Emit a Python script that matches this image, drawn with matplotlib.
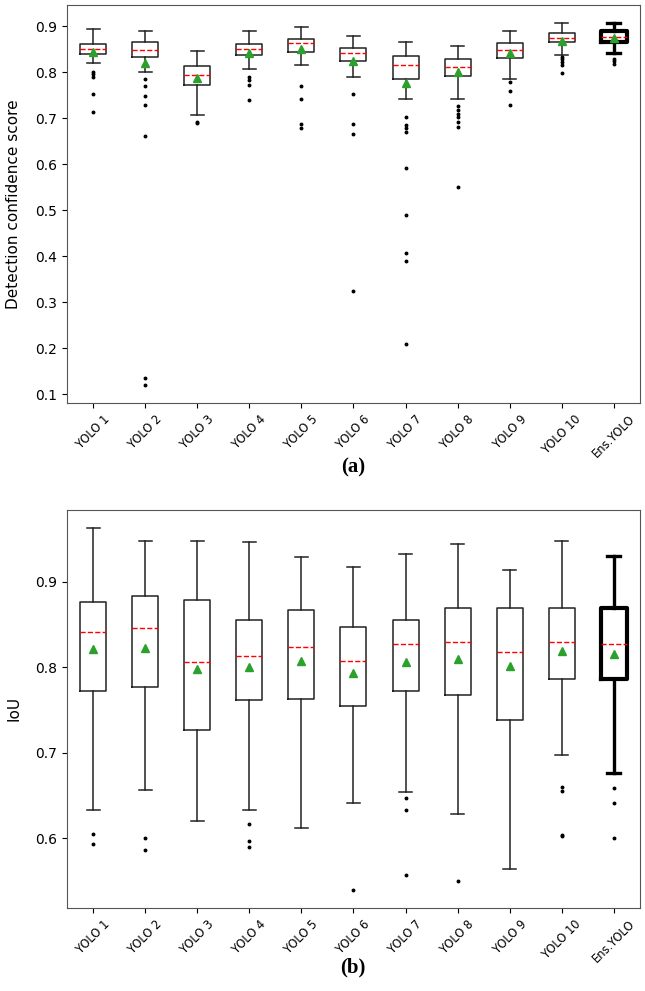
import matplotlib
matplotlib.use("Agg")
import matplotlib.pyplot as plt

labels = ["YOLO 1", "YOLO 2", "YOLO 3", "YOLO 4", "YOLO 5", "YOLO 6",
          "YOLO 7", "YOLO 8", "YOLO 9", "YOLO 10", "Ens.YOLO"]

# (a) detection confidence score
conf_whislo = [0.820, 0.801, 0.707, 0.807, 0.817, 0.789, 0.743, 0.743, 0.785, 0.838, 0.841]
conf_q1 = [0.839, 0.833, 0.772, 0.838, 0.844, 0.825, 0.785, 0.793, 0.831, 0.866, 0.867]
conf_med = [0.851, 0.848, 0.794, 0.851, 0.863, 0.843, 0.817, 0.812, 0.849, 0.875, 0.877]
conf_q3 = [0.862, 0.865, 0.814, 0.861, 0.872, 0.852, 0.835, 0.828, 0.864, 0.886, 0.889]
conf_whishi = [0.894, 0.889, 0.847, 0.889, 0.898, 0.879, 0.865, 0.857, 0.890, 0.907, 0.907]
conf_mean = [0.845, 0.820, 0.787, 0.841, 0.850, 0.825, 0.777, 0.800, 0.843, 0.869, 0.875]
conf_fliers = [
    [0.801, 0.796, 0.789, 0.753, 0.713],
    [0.786, 0.770, 0.748, 0.728, 0.661, 0.136, 0.120],
    [0.693, 0.689],
    [0.789, 0.783, 0.772, 0.740],
    [0.770, 0.743, 0.688, 0.680],
    [0.753, 0.688, 0.666, 0.325],
    [0.703, 0.685, 0.680, 0.670, 0.592, 0.489, 0.406, 0.389, 0.208],
    [0.727, 0.718, 0.710, 0.702, 0.693, 0.682, 0.551],
    [0.780, 0.759, 0.728],
    [0.834, 0.829, 0.823, 0.817, 0.798],
    [0.830, 0.825, 0.818],
]

# (b) IoU
iou_whislo = [0.633, 0.657, 0.620, 0.633, 0.612, 0.641, 0.654, 0.629, 0.564, 0.697, 0.677]
iou_q1 = [0.772, 0.777, 0.727, 0.762, 0.763, 0.755, 0.773, 0.768, 0.738, 0.787, 0.787]
iou_med = [0.841, 0.846, 0.806, 0.813, 0.824, 0.808, 0.827, 0.830, 0.818, 0.830, 0.827]
iou_q3 = [0.877, 0.884, 0.879, 0.856, 0.867, 0.847, 0.855, 0.869, 0.870, 0.869, 0.869]
iou_whishi = [0.963, 0.948, 0.948, 0.947, 0.929, 0.918, 0.933, 0.944, 0.914, 0.948, 0.930]
iou_mean = [0.822, 0.823, 0.798, 0.801, 0.808, 0.794, 0.806, 0.810, 0.802, 0.819, 0.816]
iou_fliers = [
    [0.605, 0.593],
    [0.601, 0.587],
    [],
    [0.617, 0.597, 0.590],
    [],
    [0.540],
    [0.647, 0.633, 0.557],
    [0.550],
    [],
    [0.660, 0.656, 0.604, 0.603],
    [0.659, 0.641, 0.601],
]


def make_stats(lo, q1, med, q3, hi, mean, fliers):
    return [dict(label=labels[i], whislo=lo[i], q1=q1[i], med=med[i], q3=q3[i],
                 whishi=hi[i], mean=mean[i], fliers=fliers[i])
            for i in range(len(labels))]


def draw(ax, stats, yticks, ylabel):
    parts = ax.bxp(
        stats, showmeans=True, widths=0.5,
        boxprops=dict(color="#222222", linewidth=1.1),
        whiskerprops=dict(color="#222222", linewidth=1.1),
        capprops=dict(color="#222222", linewidth=1.1),
        medianprops=dict(color="red", linestyle="--", linewidth=1.0),
        meanprops=dict(marker="^", markerfacecolor="#2ca02c",
                       markeredgecolor="#2ca02c", markersize=6),
        flierprops=dict(marker="o", markerfacecolor="black",
                        markeredgecolor="black", markersize=1.8, linestyle="none"),
    )
    # ensemble box drawn bold
    parts["boxes"][-1].set_linewidth(3)
    parts["boxes"][-1].set_color("black")
    for ln in parts["whiskers"][-2:] + parts["caps"][-2:]:
        ln.set_linewidth(2.4)
        ln.set_color("black")
    ax.set_yticks(yticks)
    ax.set_xticks(range(1, len(labels) + 1))
    ax.set_xticklabels(labels, rotation=45, fontsize=8.3)
    ax.tick_params(axis="y", labelsize=10)
    ax.set_ylabel(ylabel, fontsize=11)
    for sp in ax.spines.values():
        sp.set_color("#555555")


fig = plt.figure(figsize=(6.45, 9.91), dpi=100)
ax1 = fig.add_axes([0.104, 0.5933, 0.888, 0.4016])
ax2 = fig.add_axes([0.104, 0.0840, 0.888, 0.4013])

draw(ax1, make_stats(conf_whislo, conf_q1, conf_med, conf_q3, conf_whishi, conf_mean, conf_fliers),
     [0.1, 0.2, 0.3, 0.4, 0.5, 0.6, 0.7, 0.8, 0.9], "Detection confidence score")
draw(ax2, make_stats(iou_whislo, iou_q1, iou_med, iou_q3, iou_whishi, iou_mean, iou_fliers),
     [0.6, 0.7, 0.8, 0.9], "IoU")
ax1.yaxis.set_label_coords(-0.08, 0.5)
ax2.yaxis.set_label_coords(-0.08, 0.5)

fig.text(0.547, 0.528, "(a)", ha="center", va="center", fontsize=15,
         fontweight="bold", family="Liberation Serif")
fig.text(0.547, 0.024, "(b)", ha="center", va="center", fontsize=15,
         fontweight="bold", family="Liberation Serif")

fig.savefig("out.png", dpi=100)
